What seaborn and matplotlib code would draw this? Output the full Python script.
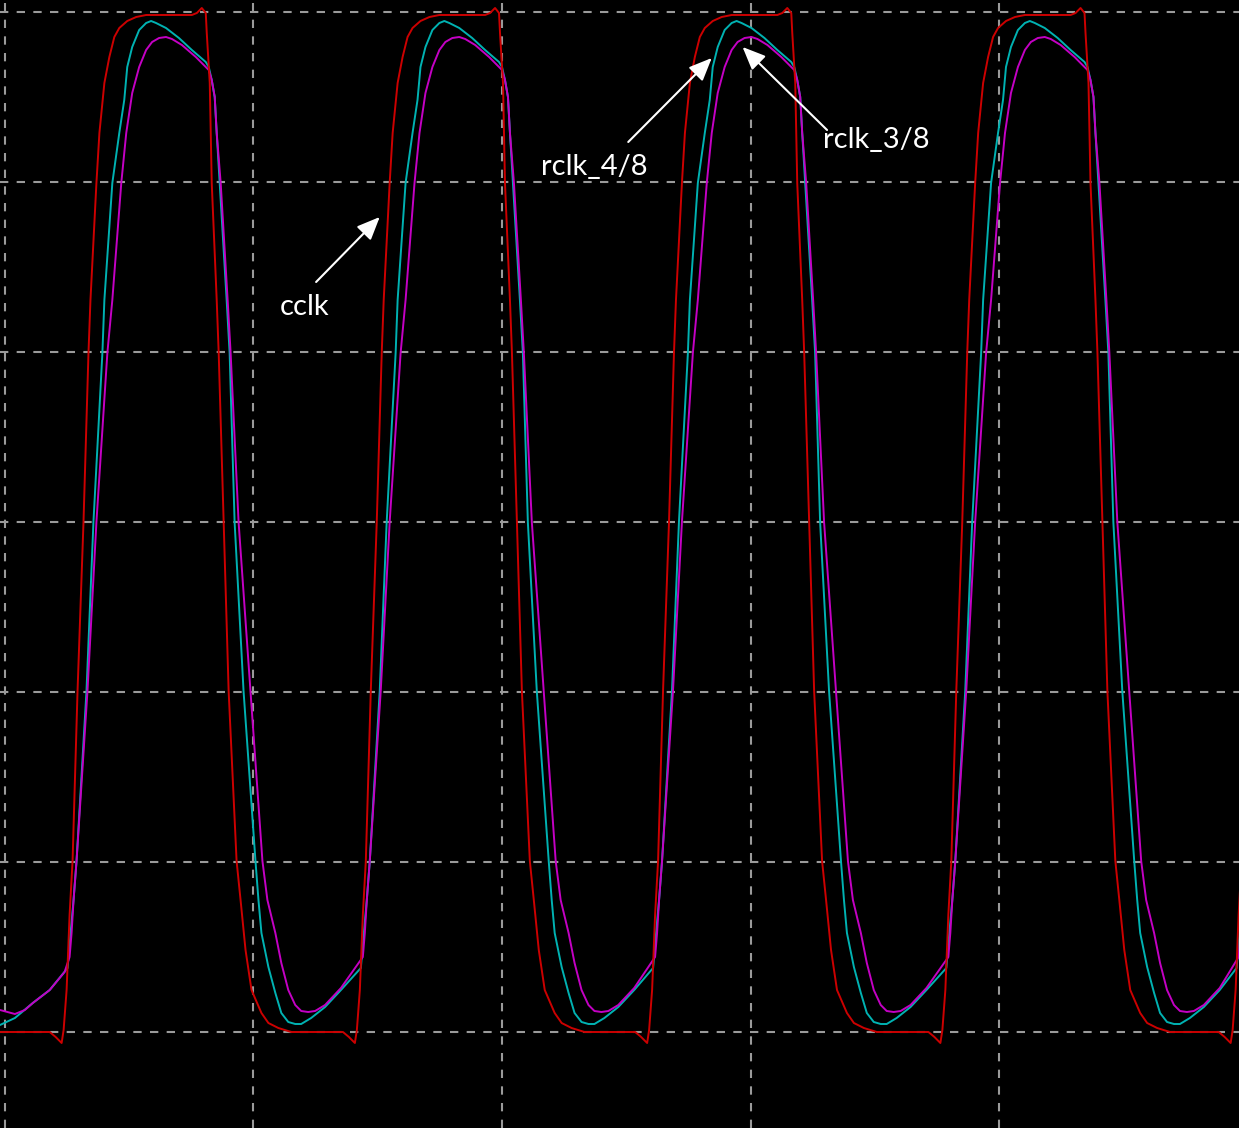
import matplotlib
matplotlib.use("Agg")
import matplotlib.pyplot as plt
import seaborn as sns
import pandas as pd

# Time in ps (250 ps / division), voltage in mV (170 mV / division)
cclk_t = [-5,
          45, 51, 57, 59, 62, 65, 68, 73, 79, 84, 86, 92, 95, 100, 105, 110, 115, 123, 132, 142, 188, 193, 198, 202, 203, 206, 208, 213, 215, 220, 225, 233, 237, 242, 248, 258, 265, 275, 288,
          340, 346, 352, 354, 357, 360, 363, 368, 374, 379, 381, 387, 390, 395, 400, 405, 410, 418, 427, 437, 483, 488, 493, 497, 498, 501, 503, 508, 510, 515, 520, 528, 532, 537, 543, 553, 560, 570, 583,
          634, 640, 646, 648, 651, 654, 657, 662, 668, 673, 675, 681, 684, 689, 694, 699, 704, 712, 721, 731, 777, 782, 787, 791, 792, 795, 797, 802, 804, 809, 814, 822, 826, 831, 837, 847, 854, 864, 877,
          929, 935, 941, 943, 946, 949, 952, 957, 963, 968, 970, 976, 979, 984, 989, 994, 999, 1007, 1016, 1026, 1072, 1077, 1082, 1086, 1087, 1090, 1092, 1097, 1099, 1104, 1109, 1117, 1121, 1126, 1132, 1142, 1149, 1159, 1172,
          1221, 1227, 1233, 1235, 1238, 1241, 1244, 1249]
cclk_v = [0,
          0, -5, -11, 2, 42, 117, 171, 341, 510, 679, 732, 849, 899, 949, 975, 995, 1004, 1011, 1015, 1017, 1017, 1019, 1024, 1019, 999, 949, 849, 732, 679, 510, 341, 171, 132, 82, 42, 19, 9, 4, 0,
          0, -5, -11, 2, 42, 117, 171, 341, 510, 679, 732, 849, 899, 949, 975, 995, 1004, 1011, 1015, 1017, 1017, 1019, 1024, 1019, 999, 949, 849, 732, 679, 510, 341, 171, 132, 82, 42, 19, 9, 4, 0,
          0, -5, -11, 2, 42, 117, 171, 341, 510, 679, 732, 849, 899, 949, 975, 995, 1004, 1011, 1015, 1017, 1017, 1019, 1024, 1019, 999, 949, 849, 732, 679, 510, 341, 171, 132, 82, 42, 19, 9, 4, 0,
          0, -5, -11, 2, 42, 117, 171, 341, 510, 679, 732, 849, 899, 949, 975, 995, 1004, 1011, 1015, 1017, 1017, 1019, 1024, 1019, 999, 949, 849, 732, 679, 510, 341, 171, 132, 82, 42, 19, 9, 4, 0,
          0, -5, -11, 2, 42, 117, 171, 341]

rclk48_t = [-5, 10, 28, 45,
            63, 66, 69, 72, 82, 89, 98, 100, 108, 115, 120, 123, 128, 135, 142, 147, 152, 162, 175, 188, 202, 205, 208, 211, 213, 216, 223, 226, 231, 240, 252, 255, 258, 265, 272, 278, 285, 292, 298, 308, 322, 338,
            358, 361, 364, 367, 377, 384, 393, 395, 403, 410, 415, 418, 423, 430, 437, 442, 447, 457, 470, 483, 497, 500, 503, 506, 508, 511, 518, 521, 526, 535, 547, 550, 553, 560, 567, 573, 580, 587, 593, 603, 617, 633,
            652, 655, 658, 661, 671, 678, 687, 689, 697, 704, 709, 712, 717, 724, 731, 736, 741, 751, 764, 777, 791, 794, 797, 800, 802, 805, 812, 815, 820, 829, 841, 844, 847, 854, 861, 867, 874, 881, 887, 897, 911, 927,
            947, 950, 953, 956, 966, 973, 982, 984, 992, 999, 1004, 1007, 1012, 1019, 1026, 1031, 1036, 1046, 1059, 1072, 1086, 1089, 1092, 1095, 1097, 1100, 1107, 1110, 1115, 1124, 1136, 1139, 1142, 1149, 1156, 1162, 1169, 1176, 1182, 1192, 1206, 1222,
            1239, 1242, 1245]
rclk48_v = [7, 14, 29, 42,
            64, 99, 132, 171, 341, 510, 679, 732, 849, 899, 932, 965, 985, 1002, 1009, 1011, 1009, 1004, 994, 982, 970, 965, 952, 935, 899, 849, 732, 679, 510, 341, 171, 132, 99, 65, 39, 19, 10, 8, 8, 14, 25, 42,
            64, 99, 132, 171, 341, 510, 679, 732, 849, 899, 932, 965, 985, 1002, 1009, 1011, 1009, 1004, 994, 982, 970, 965, 952, 935, 899, 849, 732, 679, 510, 341, 171, 132, 99, 65, 39, 19, 10, 8, 8, 14, 25, 42,
            64, 99, 132, 171, 341, 510, 679, 732, 849, 899, 932, 965, 985, 1002, 1009, 1011, 1009, 1004, 994, 982, 970, 965, 952, 935, 899, 849, 732, 679, 510, 341, 171, 132, 99, 65, 39, 19, 10, 8, 8, 14, 25, 42,
            64, 99, 132, 171, 341, 510, 679, 732, 849, 899, 932, 965, 985, 1002, 1009, 1011, 1009, 1004, 994, 982, 970, 965, 952, 935, 899, 849, 732, 679, 510, 341, 171, 132, 99, 65, 39, 19, 10, 8, 8, 14, 25, 42,
            64, 99, 132]

rclk38_t = [-5, 10, 20, 28, 45, 60,
            65, 67, 69, 72, 83, 92, 103, 108, 117, 122, 128, 135, 142, 148, 155, 162, 168, 178, 192, 205, 208, 211, 213, 217, 224, 227, 235, 247, 259, 264, 272, 278, 285, 292, 298, 305, 312, 322, 338,
            360, 362, 364, 367, 378, 387, 398, 403, 412, 417, 423, 430, 437, 443, 450, 457, 463, 473, 487, 500, 503, 506, 508, 512, 519, 522, 530, 542, 554, 559, 567, 573, 580, 587, 593, 600, 607, 617, 633,
            654, 656, 658, 661, 672, 681, 692, 697, 706, 711, 717, 724, 731, 737, 744, 751, 757, 767, 781, 794, 797, 800, 802, 806, 813, 816, 824, 836, 848, 853, 861, 867, 874, 881, 887, 894, 901, 911, 927,
            949, 951, 953, 956, 967, 976, 987, 992, 1001, 1006, 1012, 1019, 1026, 1032, 1039, 1046, 1052, 1062, 1076, 1089, 1092, 1095, 1097, 1101, 1108, 1111, 1119, 1131, 1143, 1148, 1156, 1162, 1169, 1176, 1182, 1189, 1196, 1206, 1222,
            1241, 1243]
rclk38_v = [22, 18, 22, 29, 42, 60,
            75, 99, 132, 171, 341, 510, 679, 732, 849, 899, 939, 965, 982, 990, 994, 995, 993, 987, 975, 962, 952, 935, 899, 849, 732, 679, 510, 341, 171, 132, 99, 69, 42, 27, 21, 20, 21, 27, 44,
            75, 99, 132, 171, 341, 510, 679, 732, 849, 899, 939, 965, 982, 990, 994, 995, 993, 987, 975, 962, 952, 935, 899, 849, 732, 679, 510, 341, 171, 132, 99, 69, 42, 27, 21, 20, 21, 27, 44,
            75, 99, 132, 171, 341, 510, 679, 732, 849, 899, 939, 965, 982, 990, 994, 995, 993, 987, 975, 962, 952, 935, 899, 849, 732, 679, 510, 341, 171, 132, 99, 69, 42, 27, 21, 20, 21, 27, 44,
            75, 99, 132, 171, 341, 510, 679, 732, 849, 899, 939, 965, 982, 990, 994, 995, 993, 987, 975, 962, 952, 935, 899, 849, 732, 679, 510, 341, 171, 132, 99, 69, 42, 27, 21, 20, 21, 27, 44,
            75, 99]

series_names = ["rclk_4/8", "rclk_3/8", "cclk"]
series_colors = {"rclk_4/8": "#00b2b2", "rclk_3/8": "#c400c4", "cclk": "#cc0000"}

frames = []
for name, tt, vv in [("rclk_4/8", rclk48_t, rclk48_v),
                     ("rclk_3/8", rclk38_t, rclk38_v),
                     ("cclk", cclk_t, cclk_v)]:
    frames.append(pd.DataFrame({"t": tt, "v": vv, "sig": name}))
df = pd.concat(frames, ignore_index=True)

sns.set_style("dark")
plt.rcParams["font.family"] = ["Lato", "DejaVu Sans"]

fig = plt.figure(figsize=(12.39, 11.28), dpi=100, facecolor="black")
ax = fig.add_axes([0, 0, 1, 1])
ax.set_facecolor("black")

sns.lineplot(data=df, x="t", y="v", hue="sig", hue_order=series_names,
             palette=series_colors, estimator=None, sort=False,
             linewidth=1.4, legend=False, ax=ax)

ax.set_xlim(-5.0, 1241.4)
ax.set_ylim(-96, 1032)
ax.set_xticks([0, 250, 500, 750, 1000])
ax.set_yticks([0, 170, 340, 510, 680, 850, 1020])
ax.grid(True, color="#9a9a9a", linestyle=(0, (4, 4)), linewidth=1.5)
ax.set_axisbelow(True)
ax.tick_params(length=0, labelbottom=False, labelleft=False)
ax.set_xlabel("")
ax.set_ylabel("")
for s in ax.spines.values():
    s.set_visible(False)

arrow_kw = dict(arrowstyle="-|>,head_length=0.7,head_width=0.3", color="white",
                lw=1.5, mutation_scale=20, shrinkA=0, shrinkB=0)
labels = [("cclk", (301, 725), (313, 750), (377, 815)),
          ("rclk_4/8", (593, 865), (627, 890), (711, 974)),
          ("rclk_3/8", (877, 892), (827, 902), (742, 985))]
for txt, tpos, tail, tip in labels:
    ax.text(tpos[0], tpos[1], txt, color="white", fontsize=21,
            ha="center", va="center")
    ax.annotate("", xy=tip, xytext=tail, arrowprops=arrow_kw)

fig.savefig("out.png", dpi=100, facecolor="black")
